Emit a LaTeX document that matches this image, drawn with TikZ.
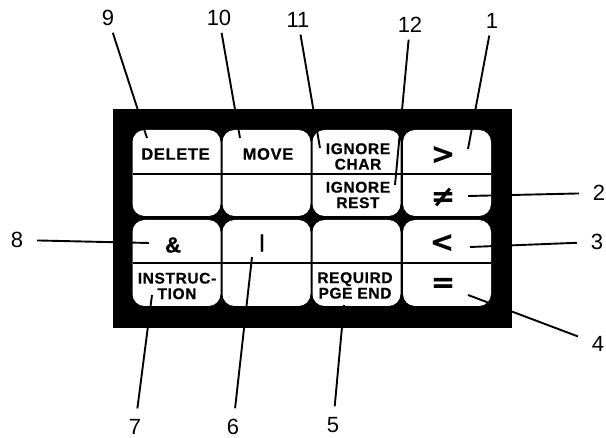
\documentclass[tikz,border=0pt]{standalone}
\usepackage{fontspec}
\setmainfont{Liberation Sans}
\newfontfamily\heavy[FakeBold=0.7,LetterSpace=4]{Liberation Sans Bold}
\newfontfamily\symfont[FakeBold=0.5]{DejaVu Sans Bold}
\begin{document}
\begin{tikzpicture}[x=1pt,y=-1pt,
  keybox/.style={fill=white, rounded corners=12pt, minimum width=88pt, minimum height=86pt, inner sep=0pt},
  lbl/.style={font=\heavy\fontsize{15.5}{15.5}\selectfont, align=center, inner sep=0pt},
  biglbl/.style={lbl, font=\heavy\fontsize{16.5}{16}\selectfont},
  sym/.style={font=\symfont\fontsize{29}{29}\selectfont, inner sep=0pt},
  num/.style={font=\fontsize{22}{22}\selectfont, inner sep=0pt, outer sep=7pt},
  numside/.style={num, outer sep=14pt},
  numbot/.style={num, outer sep=11pt},
  callout/.style={line width=1.9pt},
  divider/.style={line width=1.6pt}]
\useasboundingbox (0,0) rectangle (606,438);
% frame
\node[fill=black, minimum width=399pt, minimum height=219pt, inner sep=0pt] (frame) at (312.5,218.5) {};
% keys
\node[keybox] (k11) at (176.5,173) {};
\node[keybox] (k12) at (266.5,173) {};
\node[keybox] (k13) at (356.5,173) {};
\node[keybox] (k14) at (447,173) {};
\node[keybox] (k21) at (176.5,263) {};
\node[keybox] (k22) at (266.5,263) {};
\node[keybox] (k23) at (356.5,263) {};
\node[keybox] (k24) at (447,263) {};
% dividers
\draw[divider] (132.5,174) -- (491,174);
\draw[divider] (132.5,263) -- (491,263);
% labels
\node[biglbl] (tDelete) at (175.5,154) {DELETE};
\node[biglbl] (tMove) at (268,154) {MOVE};
\node[lbl] (tIgnC) at (358,156.5) {IGNORE\\CHAR};
\node[sym] (tGt) at (443,155) {>};
\node[lbl] (tIgnR) at (358,195) {IGNORE\\REST};
\node[sym] (tNe) at (443,197) {≠};
\node[lbl, font=\heavy\fontsize{22}{22}\selectfont] (tAnd) at (173,245) {\&};
\node[lbl, font=\heavy\fontsize{18}{18}\selectfont] (tOr) at (262,243) {|};
\node[sym] (tLt) at (442,243) {<};
\node[lbl] (tInstr) at (177,286) {INSTRUC-\\TION};
\node[lbl] (tReq) at (355,285.5) {REQUIRD\\PGE END};
\node[sym] (tEq) at (443,285) {=};
% callout ends
\coordinate (e1) at (468,149);
\coordinate (e2) at (468,196);
\coordinate (e3) at (470,247);
\coordinate (e4) at (468,295);
\coordinate (e5) at (344,305);
\coordinate (e6) at (252,257);
\coordinate (e7) at (152,295);
\coordinate (e8) at (149,243);
\coordinate (e9) at (147,138);
\coordinate (e10) at (240,138);
\coordinate (e11) at (320,148);
\coordinate (e12) at (395,185);
% numbers
\node[num] (n9) at (108,18) {9};
\node[num] (n10) at (219,18) {10};
\node[num] (n11) at (298,20) {11};
\node[num] (n12) at (410,25) {12};
\node[num] (n1) at (492,21) {1};
\node[numside] (n2) at (599,193) {2};
\node[numside] (n3) at (597,242) {3};
\node[numside] (n4) at (598,344) {4};
\node[numbot] (n5) at (333,425) {5};
\node[numbot] (n6) at (233,427) {6};
\node[numbot] (n7) at (135,427) {7};
\node[numside] (n8) at (17,240) {8};
% callouts
\foreach \i in {1,...,12} {\draw[callout] (n\i) -- (e\i);}
\end{tikzpicture}
\end{document}
